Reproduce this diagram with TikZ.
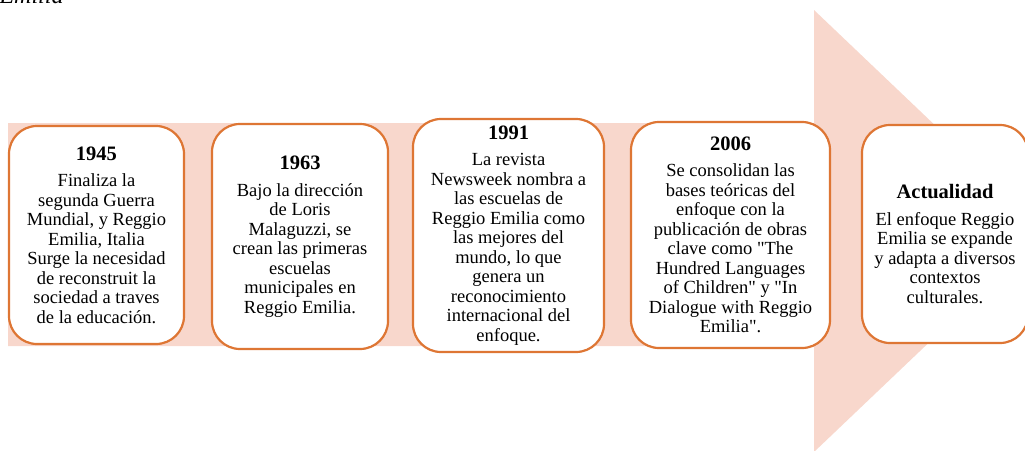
\documentclass[tikz,border=0pt]{standalone}
\usepackage{fontspec}
\setmainfont{Liberation Serif}[Ligatures=TeXOff]
\definecolor{bandpink}{RGB}{248,215,204}
\definecolor{boxorange}{RGB}{222,118,52}
\newcommand{\yearfont}{\fontsize{20.5}{22}\selectfont\bfseries}
\begin{document}
\begin{tikzpicture}
    [
    x=1pt,y=-1pt,
    event/.style={draw=boxorange,line width=2.2pt,fill=white,rounded corners=28pt,
      align=center,inner sep=2pt,font=\fontsize{18.5}{19.5}\selectfont},
    band/.style={fill=bandpink}
    ]
    \useasboundingbox (0,0) rectangle (1025,450);
    \node (caption) at (-4,3) [anchor=base west,font=\fontsize{24}{26}\selectfont\itshape] {Emilia};
    \fill [band] (8,123) -- (814,123) -- (814,10) -- (1046,231) -- (814,452) -- (814,346) -- (8,346) -- cycle;

    \node (n1945) at (96.5,235) [event,minimum width=175pt,minimum height=218pt]
      {{\yearfont 1945}\\[7pt] Finaliza la\\ segunda Guerra\\ Mundial, y Reggio\\ Emilia, Italia\\
       Surge la necesidad\\ de reconstruit la\\ sociedad a traves\\ de la educación.};
    \node (n1963) at (300,236.5) [event,minimum width=176pt,minimum height=225pt]
      {{\yearfont 1963}\\[7pt] Bajo la dirección\\ de Loris\\ Malaguzzi, se\\ crean las primeras\\
       escuelas\\ municipales en\\ Reggio Emilia.};
    \node (n1991) at (508.5,235.5) [event,minimum width=191pt,minimum height=233pt]
      {{\yearfont 1991}\\[7pt] La revista\\ Newsweek nombra a\\ las escuelas de\\ Reggio Emilia como\\
       las mejores del\\ mundo, lo que\\ genera un\\ reconocimiento\\ internacional del\\ enfoque.};
    \node (n2006) at (730.5,235) [event,minimum width=199pt,minimum height=226pt]
      {{\yearfont 2006}\\[7pt] Se consolidan las\\ bases teóricas del\\ enfoque con la\\ publicación de obras\\
       clave como "The\\ Hundred Languages\\ of Children" y "In\\ Dialogue with Reggio\\ Emilia".};
    \node (now) at (945,234) [event,minimum width=166pt,minimum height=218pt]
      {{\yearfont\rule{0pt}{34pt}Actualidad}\\[7pt] El enfoque Reggio\\ Emilia se expande\\ y adapta a diversos\\
       contextos\\ culturales.};
  \end{tikzpicture}
\end{document}
